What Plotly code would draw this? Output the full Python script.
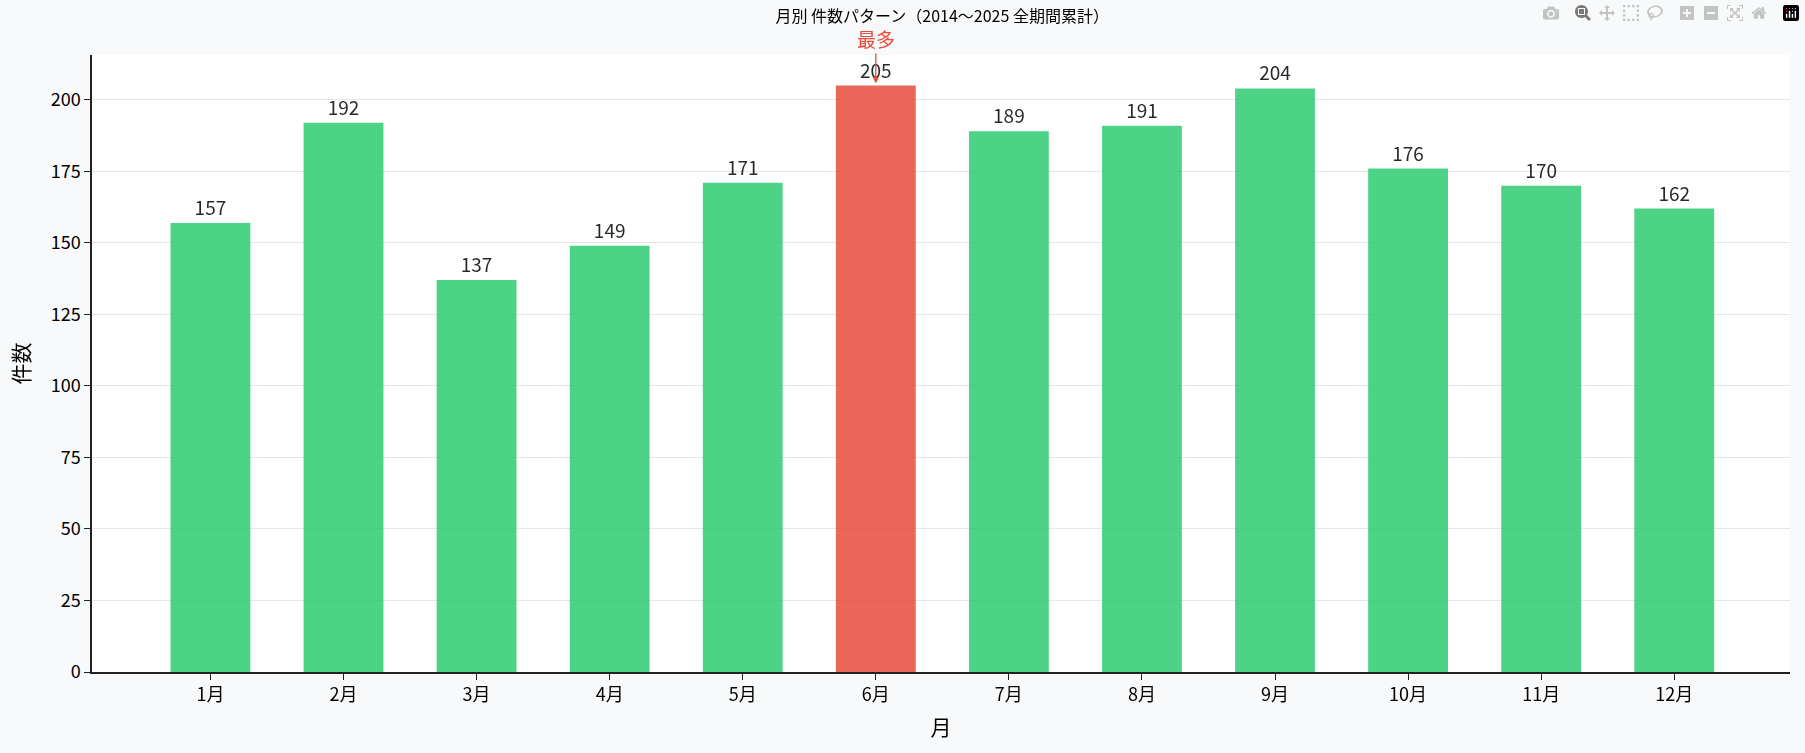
import plotly.graph_objects as go

months = ["1月", "2月", "3月", "4月", "5月", "6月", "7月", "8月", "9月", "10月", "11月", "12月"]
counts = [157, 192, 137, 149, 171, 205, 189, 191, 204, 176, 170, 162]

peak = counts.index(max(counts))
colors = ["#e74c3c" if i == peak else "#2ecc71" for i in range(len(counts))]

fig = go.Figure()
fig.add_trace(go.Bar(x=months, y=counts, marker=dict(color=colors, line=dict(width=0)),
                     opacity=0.85, width=0.6,
                     text=counts, textposition="outside", cliponaxis=False,
                     textfont=dict(size=19, color="#000")))

fig.add_annotation(x=months[peak], y=counts[peak], text="最多", showarrow=True,
                   arrowhead=2, arrowsize=1, arrowwidth=1.3, arrowcolor="#e74c3c",
                   ax=0, ay=-30, yshift=2, font=dict(size=19, color="#e74c3c"), yanchor="bottom")

font = "Noto Sans CJK JP, Noto Sans, sans-serif"
fig.update_layout(
    width=1805, height=753,
    paper_bgcolor="#f8f9fa", plot_bgcolor="white",
    font=dict(family=font, size=18, color="#000"),
    title=dict(text="月別 件数パターン（2014〜2025 全期間累計）", x=0.522, y=0.985,
               xanchor="center", yanchor="top", font=dict(size=16)),
    margin=dict(l=92, r=15, t=55, b=81),
    showlegend=False, bargap=0.4,
)
fig.update_xaxes(title_text="月", title_font=dict(size=21), range=[-0.89, 11.87],
                 showline=True, linecolor="#222", linewidth=1.5,
                 ticks="outside", ticklen=6, tickcolor="#222", showgrid=False)
fig.update_yaxes(title_text="件数", title_font=dict(size=21), range=[0, 215.7], dtick=25,
                 showline=True, linecolor="#222", linewidth=1.5,
                 ticks="outside", ticklen=6, tickcolor="#222",
                 showgrid=True, gridcolor="#e6e6e6", zeroline=False)

fig.write_html("out.html", post_script="document.body.style.margin='0';")
